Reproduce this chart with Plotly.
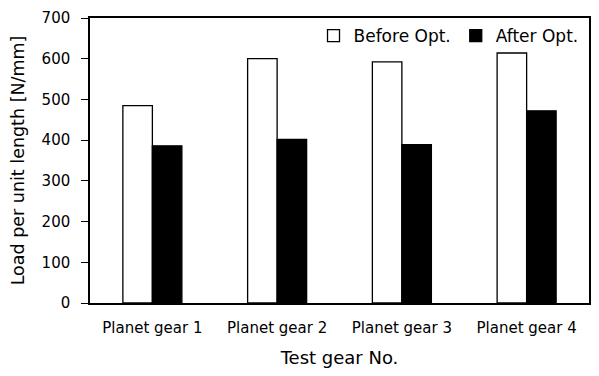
import plotly.graph_objects as go

categories = ["Planet gear 1", "Planet gear 2", "Planet gear 3", "Planet gear 4"]
before_opt = [485, 600, 592, 614]
after_opt = [386, 402, 389, 472]
y_ticks = [0, 100, 200, 300, 400, 500, 600, 700]

fig = go.Figure()
fig.add_trace(go.Bar(x=categories, y=before_opt, name="Before Opt.",
                     marker=dict(color="white", line=dict(color="black", width=1.3))))
fig.add_trace(go.Bar(x=categories, y=after_opt, name="After Opt.",
                     marker=dict(color="black", line=dict(color="black", width=1.3))))

font_main = "DejaVu Sans, sans-serif"
# the page body adds an 8px offset, so the figure is sized/margined to compensate
fig.update_layout(
    width=591, height=368,
    margin=dict(l=82, r=10, t=10, b=73, autoexpand=False),
    paper_bgcolor="white", plot_bgcolor="white",
    barmode="group", bargap=0.527, bargroupgap=0,
    showlegend=True,
    legend=dict(orientation="h", x=0.989, xanchor="right", y=1.0, yanchor="top",
                font=dict(family=font_main, size=17, color="black"),
                bgcolor="rgba(0,0,0,0)", itemwidth=30, traceorder="normal"),
    font=dict(family=font_main, color="black"),
    xaxis=dict(
        title=dict(text="Test gear No.", font=dict(size=18, family=font_main), standoff=16),
        tickfont=dict(size=15, family=font_main),
        showline=True, linecolor="black", linewidth=1.5, mirror=True,
        ticks="", showgrid=False, automargin=False,
        ticklabelstandoff=10,
    ),
    yaxis=dict(
        title=dict(text="Load per unit length [N/mm]", font=dict(size=17.5, family=font_main), standoff=28),
        tickfont=dict(size=15, family=font_main),
        range=[0, 700], tickvals=y_ticks,
        showline=True, linecolor="black", linewidth=1.5, mirror=True,
        ticks="outside", ticklen=7, tickcolor="black", tickwidth=1,
        ticklabelstandoff=8, ticklabeloverflow="allow",
        showgrid=False, zeroline=False, automargin=False,
    ),
)

fig.write_html("out.html")
